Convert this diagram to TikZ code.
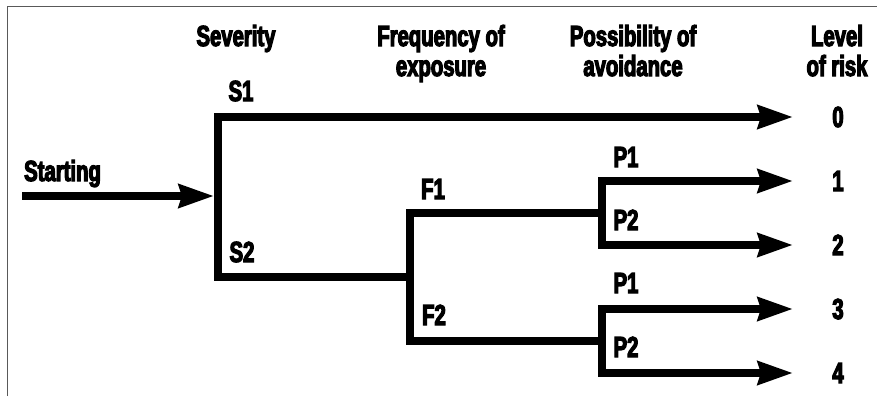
\documentclass[tikz,border=0pt]{standalone}
\usepackage{fontspec}
\newfontfamily\cond{Liberation Sans}[FakeStretch=0.7,FakeBold=4]
\usetikzlibrary{arrows.meta}
\begin{document}
\begin{tikzpicture}[x=1pt,y=-1pt,
  lbl/.style={font=\cond\bfseries\fontsize{29}{30}\selectfont,inner sep=0pt,anchor=base},
  lblw/.style={lbl,anchor=base west},
  wire/.style={line width=7.8pt,line join=miter,line cap=butt},
  tip/.style={-{Stealth[length=35pt,width=23pt,inset=3pt]}},
  frame/.style={draw=black!65,line width=1pt}]
\useasboundingbox (0,0) rectangle (877,396);
% frame
\draw[frame] (7,396) -- (7,7) -- (877,7);
% coordinates
\coordinate (st) at (22,196);
\coordinate (sin) at (214,196);
\coordinate (stop) at (218,117);
\coordinate (sbot) at (218,277);
\coordinate (fmid) at (410,277);
\coordinate (ftop) at (410,213);
\coordinate (fbot) at (410,341);
\coordinate (pumid) at (602,213);
\coordinate (putop) at (602,181);
\coordinate (pubot) at (602,245);
\coordinate (plmid) at (602,341);
\coordinate (pltop) at (602,309);
\coordinate (plbot) at (602,373);
\coordinate (t0) at (793,117);
\coordinate (t1) at (793,181);
\coordinate (t2) at (793,245);
\coordinate (t3) at (793,309);
\coordinate (t4) at (793,373);
% headers
\node[lbl] (hs) at (236,46) {Severity};
\node[lbl] (hf1) at (441,46) {Frequency of};
\node[lbl] (hf2) at (441,76) {exposure};
\node[lbl] (hp1) at (633,46) {Possibility of};
\node[lbl] (hp2) at (633,76) {avoidance};
\node[lbl] (hl1) at (837,46) {Level};
\node[lbl] (hl2) at (837,76) {of risk};
% labels
\node[lblw] (lstart) at (24,181) {Starting};
\node[lbl] (ls1) at (241,101) {S1};
\node[lbl] (ls2) at (242,262) {S2};
\node[lbl] (lf1) at (433,199) {F1};
\node[lbl] (lf2) at (434,325) {F2};
\node[lbl] (lp1a) at (626,167) {P1};
\node[lbl] (lp2a) at (626,230) {P2};
\node[lbl] (lp1b) at (626,293) {P1};
\node[lbl] (lp2b) at (626,357) {P2};
\node[lbl] (n0) at (838,127) {0};
\node[lbl] (n1) at (838,191) {1};
\node[lbl] (n2) at (838,255) {2};
\node[lbl] (n3) at (838,319) {3};
\node[lbl] (n4) at (838,383) {4};
% wires
\draw[wire,tip] (st) -- (sin);
\draw[wire,tip] (fmid) -- (sbot) -- (stop) -- (t0);
\draw[wire] (pumid) -- (ftop) -- (fbot) -- (plmid);
\draw[wire,tip] (putop) -- (t1);
\draw[wire,tip] (putop) -- (pubot) -- (t2);
\draw[wire,tip] (pltop) -- (t3);
\draw[wire,tip] (pltop) -- (plbot) -- (t4);
\draw[wire] (602,177.1) -- (602,249);
\draw[wire] (602,305.1) -- (602,377);
\end{tikzpicture}
\end{document}
